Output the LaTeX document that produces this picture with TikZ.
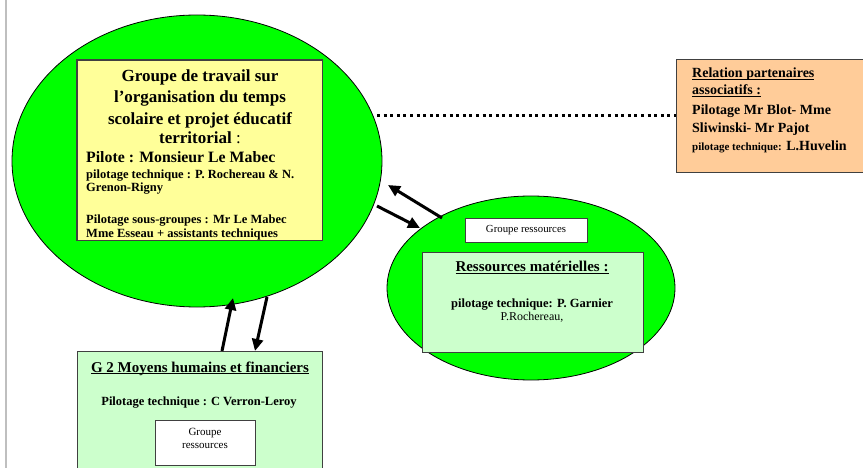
\documentclass[tikz,border=0pt]{standalone}
\usepackage{fontspec}
\setmainfont{Liberation Serif}
\usetikzlibrary{arrows.meta,shapes.geometric}
\definecolor{vert}{HTML}{00FF00}
\definecolor{jaune}{HTML}{FFFF99}
\definecolor{orangeclair}{HTML}{FFCC99}
\definecolor{vertclair}{HTML}{CCFFCC}
\definecolor{bord}{HTML}{404040}
\newcommand{\myul}[1]{\setbox0\hbox{#1}\rlap{\rule[-2.4pt]{\wd0}{1.3pt}}\box0}
\newcommand{\fs}[1]{\fontsize{#1}{#1}\selectfont}
\begin{document}
\begin{tikzpicture}[x=1pt,y=-1pt,
  bulle/.style={ellipse,draw=black,line width=0.8pt,fill=vert,inner sep=0pt},
  cadre/.style={rectangle,draw=bord,line width=1.3pt,inner sep=0pt,anchor=north west},
  fond/.style={rectangle,inner sep=0pt,anchor=north west},
  txt/.style={inner sep=0pt,anchor=base},
  txtw/.style={inner sep=0pt,anchor=base west},
  fleche/.style={line width=3pt,-{Triangle[length=12pt,width=11pt]}},
  pointille/.style={line width=3pt,dash pattern=on 3pt off 3.6pt},
]
\useasboundingbox (0,0) rectangle (863,468);
\draw[black!25,line width=2pt] (5.5,0) -- (5.5,468);

% ellipses
\node[bulle,minimum width=370pt,minimum height=292pt] (big) at (197,161) {};
\node[bulle,minimum width=288pt,minimum height=184pt] (small) at (531,288) {};

% yellow box
\node[fond,fill=jaune,minimum width=245pt,minimum height=180pt] (jaune) at (77,60) {};
\node[txt,font=\fs{17}\bfseries] (t1) at (200,82) {Groupe de travail sur};
\node[txt,font=\fs{17}\bfseries] (t2) at (200,103) {l’organisation du temps};
\node[txt,font=\fs{17}\bfseries] (t3) at (200,125) {scolaire et projet éducatif};
\node[txt,font=\fs{17}\bfseries] (t4) at (200,144) {territorial{\mdseries\ :}};
\node[txtw,font=\fs{15.8}\bfseries] (p1) at (86,163) {Pilote : Monsieur Le Mabec};
\node[txtw,font=\fs{12.5}\bfseries] (p2) at (86,179) {pilotage technique : P. Rochereau \& N.};
\node[txtw,font=\fs{12.5}\bfseries] (p3) at (86,192) {Grenon-Rigny};
\node[txtw,font=\fs{12.5}\bfseries] (p4) at (86,223) {Pilotage sous-groupes : Mr Le Mabec};
\node[txtw,font=\fs{12.5}\bfseries] (p5) at (86,237) {Mme Esseau + assistants techniques};
\draw[bord,line width=1.3pt] (jaune.north west) rectangle (jaune.south east);

% orange box
\node[cadre,fill=orangeclair,minimum width=200pt,minimum height=113pt] (orange) at (676,59) {};
\node[txtw,font=\fs{14}\bfseries] (o1) at (692,78) {\myul{Relation partenaires}};
\node[txtw,font=\fs{14}\bfseries] (o2) at (692,95) {\myul{associatifs :}};
\node[txtw,font=\fs{14}\bfseries] (o3) at (692,115) {Pilotage Mr Blot- Mme};
\node[txtw,font=\fs{14}\bfseries] (o4) at (692,133) {Sliwinski- Mr Pajot};
\node[txtw,font=\fs{14}\bfseries] (o5) at (692,151) {{\fs{11}pilotage technique:} L.Huvelin};

% dotted connector
\coordinate (d0) at (377,116);
\draw[pointille] (d0) -- (d0 -| orange.west);

% small ellipse contents
\node[cadre,fill=white,minimum width=122pt,minimum height=24pt] (gr1) at (465,218) {};
\node[txt,font=\fs{10.8}] (gr1t) at (526,233) {Groupe ressources};
\node[cadre,fill=vertclair,minimum width=221pt,minimum height=100pt] (rm) at (422,252) {};
\node[txt,font=\fs{15}\bfseries] (rm1) at (532,272) {\myul{Ressources matérielles :}};
\node[txt,font=\fs{12.5}\bfseries] (rm2) at (532,307) {pilotage technique: P. Garnier};
\node[txt,font=\fs{12}] (rm3) at (532,320) {P.Rochereau,};

% G2 box
\node[cadre,fill=vertclair,minimum width=245pt,minimum height=130pt] (g2) at (77,351) {};
\node[txt,font=\fs{15}\bfseries] (g2a) at (200,372) {\myul{G 2 Moyens humains et financiers}};
\node[txt,font=\fs{12.5}\bfseries] (g2b) at (199,405) {Pilotage technique : C Verron-Leroy};
\node[cadre,fill=white,minimum width=100pt,minimum height=45pt] (gr2) at (155,420) {};
\node[txt,font=\fs{11}] (gr2a) at (205,435) {Groupe};
\node[txt,font=\fs{11}] (gr2b) at (205,448) {ressources};

% arrows
\coordinate (a1s) at (222,351);
\coordinate (a1e) at (233,298);
\coordinate (a2s) at (267,297);
\coordinate (a2e) at (255,351);
\coordinate (a3s) at (442,218);
\coordinate (a3e) at (388,185);
\coordinate (a4s) at (377,206);
\coordinate (a4e) at (420,228);
\draw[fleche] (a1s) -- (a1e);
\draw[fleche] (a2s) -- (a2e);
\draw[fleche] (a3s) -- (a3e);
\draw[fleche] (a4s) -- (a4e);
\end{tikzpicture}
\end{document}
